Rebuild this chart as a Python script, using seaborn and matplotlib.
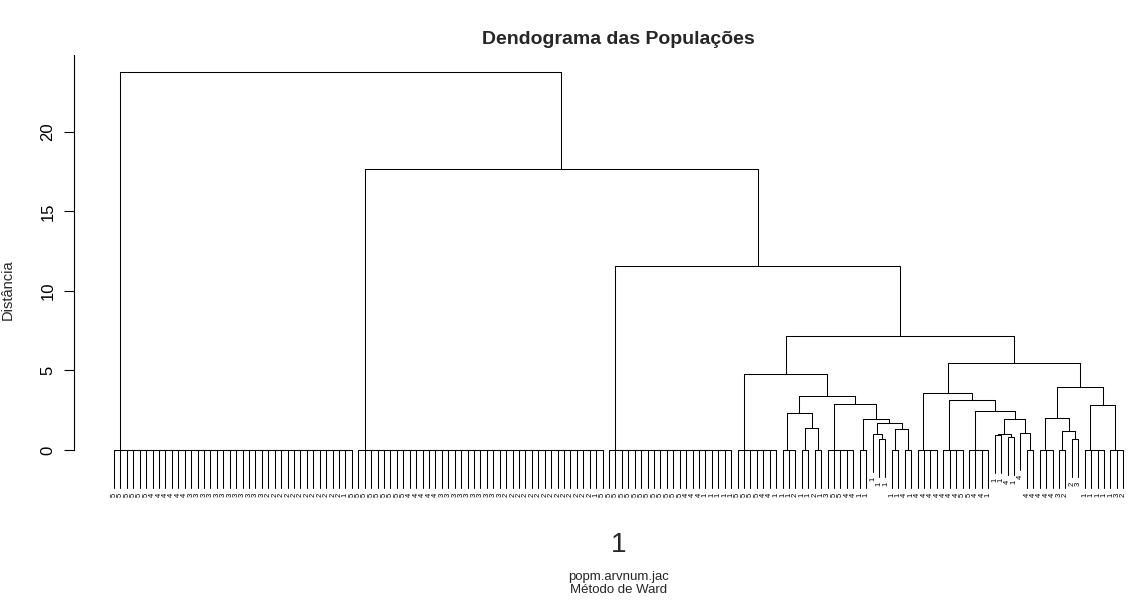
import numpy as np
import pandas as pd
import matplotlib
matplotlib.use("Agg")
import matplotlib.pyplot as plt
import seaborn as sns

# ---------------- data ----------------
# Tree of the Ward clustering.  An int n = block of n tied observations
# (merged at height 0); a tuple (h, left, right) = merge at height h.
grp_right_L = (4.76, 7,
               (3.42,
                (2.31, 3, (1.40, 2, 2)),
                (2.89, 5, (1.93, 2, (1.72, (0.98, 1, (0.69, 1, 1)), (1.30, 2, 2))))))
grp_right_R = (5.49,
               (3.56, 4, (3.14, 4, (2.45, 4, (1.95, (1.03, (0.94, 1, 1), (0.82, 1, 1)),
                                                (1.09, 1, 2))))),
               (3.98, (1.99, 3, (1.20, 2, (0.69, 1, 1))), (2.83, 4, 3)))
tree = (23.77, 38, (17.67, 39, (11.57, 20, (7.19, grp_right_L, grp_right_R))))

labels_c1 = "55555544444433333333333322222222222215"
labels_c2 = "555555554444433333333332222222222222215"
labels_c3 = "55555555555544411111"
labels_c4 = ("5555441" "1121" "12" "13" "55441" "11" "1" "11" "14" "14"
             "4444" "4455" "4411" "14" "14" "4" "44" "443" "22" "31" "1111" "322")
leaf_labels = list(labels_c1 + labels_c2 + labels_c3 + labels_c4)

title = "Dendograma das Populações"
ylab = "Distância"
yticks = [0, 5, 10, 15, 20]

# ---------------- layout of the dendrogram ----------------
def expand(node):
    if isinstance(node, int):
        if node == 1:
            return "leaf"
        sub = (0.0, "leaf", "leaf")
        for _ in range(node - 2):
            sub = (0.0, "leaf", sub)
        return sub
    h, l, r = node
    return (h, expand(l), expand(r))

full = expand(tree)
heights = []
def collect(n):
    if n != "leaf":
        heights.append(n[0]); collect(n[1]); collect(n[2])
collect(full)
hang = 0.1 * (max(heights) - min(heights))

segs = []
leaves = []
counter = [0]
def place(n):
    if n == "leaf":
        counter[0] += 1
        return counter[0], None
    h, l, r = n
    xl, hl = place(l)
    xr, hr = place(r)
    yl = h - hang if hl is None else hl
    yr = h - hang if hr is None else hr
    if hl is None:
        leaves.append((xl, yl))
    if hr is None:
        leaves.append((xr, yr))
    sid = len(segs)
    segs.append(pd.DataFrame({"seg": sid, "ord": range(4),
                              "x": [xl, xl, xr, xr], "y": [yl, h, h, yr]}))
    return (xl + xr) / 2.0, h

place(full)
df = pd.concat(segs, ignore_index=True)
nleaf = counter[0]
leaves.sort()

# ---------------- drawing ----------------
sns.set_style("white")
plt.rcParams["font.family"] = ["Liberation Sans", "DejaVu Sans"]

W, H = 1129, 601
fig = plt.figure(figsize=(W / 100, H / 100), dpi=100)
ext = 0.04 * (nleaf - 1)
xlim = (1 - ext, nleaf + ext)
ylo = -hang; yhi = max(heights)
yext = 0.04 * (yhi - ylo)
ylim = (ylo - yext, yhi + yext)

px_per_x = 6.429
left_px = 114 - (1 - xlim[0]) * px_per_x
width_px = (xlim[1] - xlim[0]) * px_per_x
top_px, bot_px = 55.4, 504.4
ax = fig.add_axes([left_px / W, 1 - bot_px / H, width_px / W, (bot_px - top_px) / H])

sns.lineplot(data=df, x="x", y="y", units="seg", estimator=None, sort=False,
             color="black", lw=0.75, ax=ax, legend=False)

off = 0.3
for (x, y), lab in zip(leaves, leaf_labels):
    ax.text(x, y - off, lab, rotation=90, ha="center", va="top", fontsize=5.5,
            color="black", clip_on=False)

ax.set_xlim(*xlim)
ax.set_ylim(*ylim)
ax.set_xticks([])
ax.set_yticks(yticks)
ax.set_yticklabels([str(t) for t in yticks], rotation=90, va="center", fontsize=12)
ax.tick_params(axis="y", direction="out", length=7, width=0.8, pad=6, colors="black",
               left=True)
for s in ["top", "right", "bottom"]:
    ax.spines[s].set_visible(False)
ax.spines["left"].set_bounds(0, ylim[1])
ax.spines["left"].set_linewidth(0.8)
ax.spines["left"].set_color("black")
ax.set_xlabel("")
ax.set_ylabel(ylab, fontsize=10.5)
ax.yaxis.set_label_coords((15 - left_px) / width_px, (bot_px - 290) / (bot_px - top_px))

cx = (left_px + width_px / 2) / W
fig.text(cx, 1 - 40 / H, title, ha="center", va="center", fontsize=14, fontweight="bold")
fig.text(cx, 1 - 545 / H, "1", ha="center", va="center", fontsize=20)
fig.text(cx, 1 - 577 / H, "popm.arvnum.jac", ha="center", va="center", fontsize=9.5)
fig.text(cx, 1 - 590 / H, "Método de Ward", ha="center", va="center", fontsize=9.5)

fig.savefig("out.png", dpi=100, facecolor="white")
